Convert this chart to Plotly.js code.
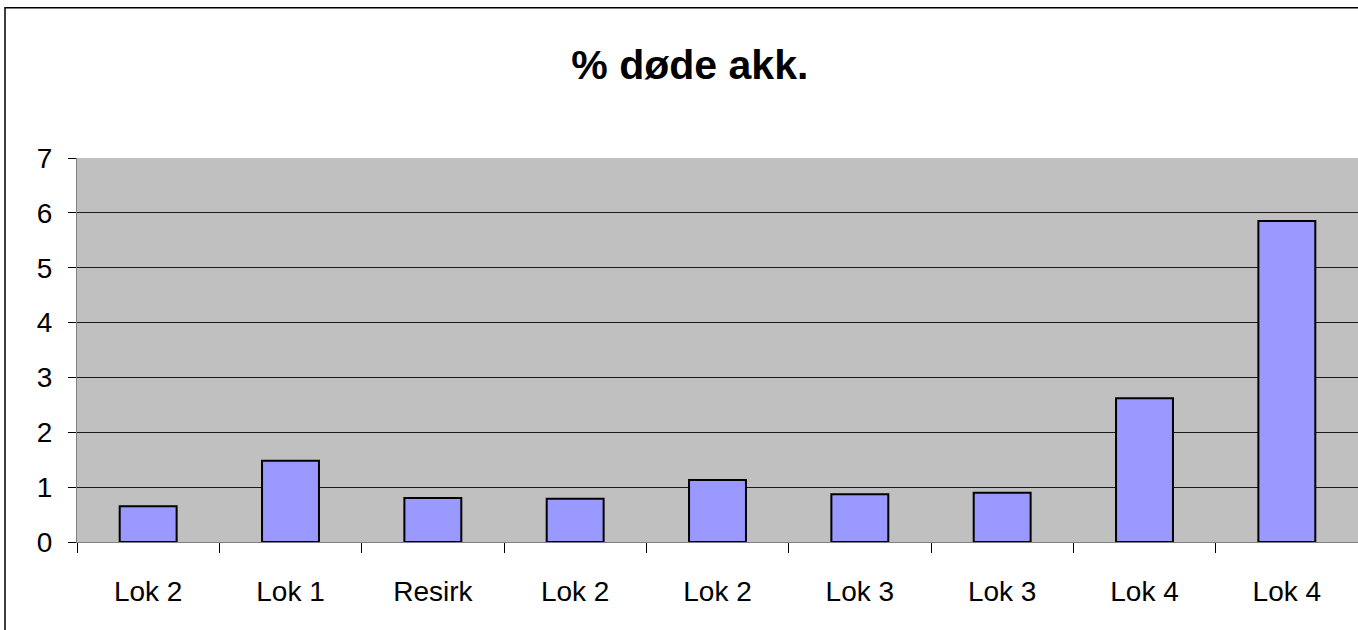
<!DOCTYPE html>
<html>
<head>
<meta charset="utf-8">
<script src="https://cdn.plot.ly/plotly-3.0.1.min.js"></script>
<style>
  html, body { margin: 0; padding: 0; background: #fff; }
  #chart { width: 1358px; height: 630px; }
</style>
</head>
<body>
<div id="chart"></div>
<script>
// -------------------- DATA --------------------
const labels = ["Lok 2", "Lok 1", "Resirk", "Lok 2", "Lok 2", "Lok 3", "Lok 3", "Lok 4", "Lok 4"];
const deadPct = [0.65, 1.48, 0.80, 0.79, 1.13, 0.87, 0.90, 2.62, 5.85];
const yTicks = [0, 1, 2, 3, 4, 5, 6, 7];

const positions = labels.map((_, i) => i);

// -------------------- PLOT --------------------
const trace = {
    type: "bar",
    x: positions,
    y: deadPct,
    width: 0.4,
    marker: { color: "#9999FF", line: { color: "#000000", width: 2 } },
    hoverinfo: "y"
};

const layout = {
    width: 1358,
    height: 630,
    margin: { l: 77, r: 0, t: 158, b: 88 },
    paper_bgcolor: "#FFFFFF",
    plot_bgcolor: "#C0C0C0",
    showlegend: false,
    font: { family: "Liberation Sans, Arial, sans-serif", size: 28, color: "#000" },
    title: {
        text: "<b>% døde akk.</b>",
        font: { size: 41, color: "#000" },
        x: 0.508, xref: "container", xanchor: "center",
        y: 0.897, yref: "container", yanchor: "middle"
    },
    xaxis: {
        range: [-0.5, 8.5],
        tickvals: positions,
        ticktext: labels,
        ticks: "",
        showgrid: false,
        zeroline: false,
        showline: true,
        linecolor: "#808080",
        linewidth: 1,
        ticklabelstandoff: 24,
        minor: { tick0: 0.5, dtick: 1, ticks: "outside", ticklen: 10, tickcolor: "#000", tickwidth: 1, showgrid: false },
        fixedrange: true
    },
    yaxis: {
        range: [0, 7],
        tickvals: yTicks,
        ticks: "outside",
        ticklen: 8,
        tickcolor: "#000",
        showgrid: true,
        gridcolor: "#1a1a1a",
        gridwidth: 1,
        zeroline: false,
        showline: true,
        linecolor: "#808080",
        linewidth: 1,
        ticklabelstandoff: 10,
        fixedrange: true
    },
    shapes: [{
        type: "rect", xref: "paper", yref: "paper",
        x0: -0.0562, x1: 1.2, y0: -0.5, y1: 1.391,
        line: { color: "#000", width: 1.5 },
        fillcolor: "rgba(0,0,0,0)",
        layer: "above"
    }]
};

Plotly.newPlot("chart", [trace], layout, { displayModeBar: false, staticPlot: true });
</script>
</body>
</html>
